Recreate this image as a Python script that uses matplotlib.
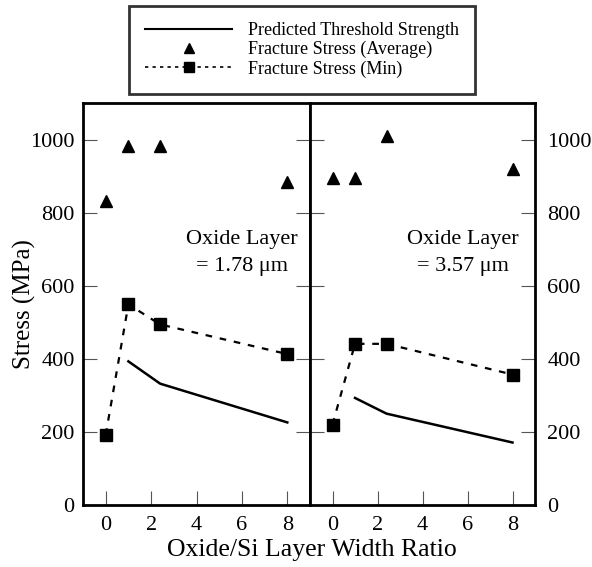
import matplotlib
matplotlib.use('Agg')
import matplotlib.pyplot as plt
from matplotlib.lines import Line2D

plt.rcParams['font.family'] = ['Liberation Serif', 'DejaVu Serif']

# oxide / Si layer width ratio
ratio_pts = [0, 1, 2.4, 8]
ratio_line = [1, 2.4, 8]

# oxide layer = 1.78 um
avg_178 = [831, 982, 982, 883]
min_178 = [192, 549, 494, 413]
pred_178 = [393, 332, 226]

# oxide layer = 3.57 um
avg_357 = [894, 894, 1011, 920]
min_357 = [220, 441, 441, 357]
pred_357 = [293, 250, 171]

panels = [
    ("Oxide Layer\n= 1.78 \u03bcm", avg_178, min_178, pred_178, 6.0),
    ("Oxide Layer\n= 3.57 \u03bcm", avg_357, min_357, pred_357, 5.8),
]

W, H = 592, 567
fig = plt.figure(figsize=(W / 100, H / 100), dpi=100)

ax_l = fig.add_axes([83 / W, 1 - 505 / H, 227 / W, 402 / H])
ax_r = fig.add_axes([310 / W, 1 - 505 / H, 225 / W, 402 / H])

DASH = (0, (3, 3.5))

for ax, (label, avg, mn, pred, tx) in zip([ax_l, ax_r], panels):
    ax.plot(ratio_line, pred, color='black', lw=1.8)
    ax.plot(ratio_pts, mn, color='black', lw=1.6, linestyle=DASH,
            marker='s', markersize=9, markerfacecolor='black')
    ax.plot(ratio_pts, avg, linestyle='none', marker='^', markersize=9,
            color='black')
    ax.text(tx, 690, label, ha='center', va='center', fontsize=16,
            linespacing=1.6)
    ax.set_xlim(-1, 9)
    ax.set_ylim(0, 1100)
    ax.set_xticks([0, 2, 4, 6, 8])
    ax.set_yticks([0, 200, 400, 600, 800, 1000])
    ax.tick_params(direction='in', length=10, width=0.8, color='#555555',
                   labelsize=16, left=True, right=True)
    ax.tick_params(axis='x', pad=8)
    for sp in ax.spines.values():
        sp.set_linewidth(2)

ax_l.tick_params(axis='y', labelleft=True, labelright=False, pad=6)
ax_r.tick_params(axis='y', labelleft=False, labelright=True, pad=9)

ax_l.set_ylabel("Stress (MPa)", fontsize=18, labelpad=-4)
fig.text(312 / W, 1 - 550 / H, "Oxide/Si Layer Width Ratio", ha='center',
         va='center', fontsize=18.5)

handles = [
    Line2D([], [], color='black', lw=1.5),
    Line2D([], [], color='black', linestyle='none', marker='^', markersize=7),
    Line2D([], [], color='black', lw=1.2, linestyle=(0, (2, 2.5)),
           marker='s', markersize=7),
]
labels = ["Predicted Threshold Strength", "Fracture Stress (Average)",
          "Fracture Stress (Min)"]
leg = fig.legend(handles, labels, loc='center',
                 bbox_to_anchor=(302 / W, 1 - 50 / H),
                 fontsize=13, frameon=True, fancybox=False, handlelength=4.8,
                 borderpad=0.9, labelspacing=0.1, handletextpad=0.85,
                 borderaxespad=0)
leg.get_frame().set_edgecolor('black')
leg.get_frame().set_linewidth(2)

fig.savefig("out.png", dpi=100)
